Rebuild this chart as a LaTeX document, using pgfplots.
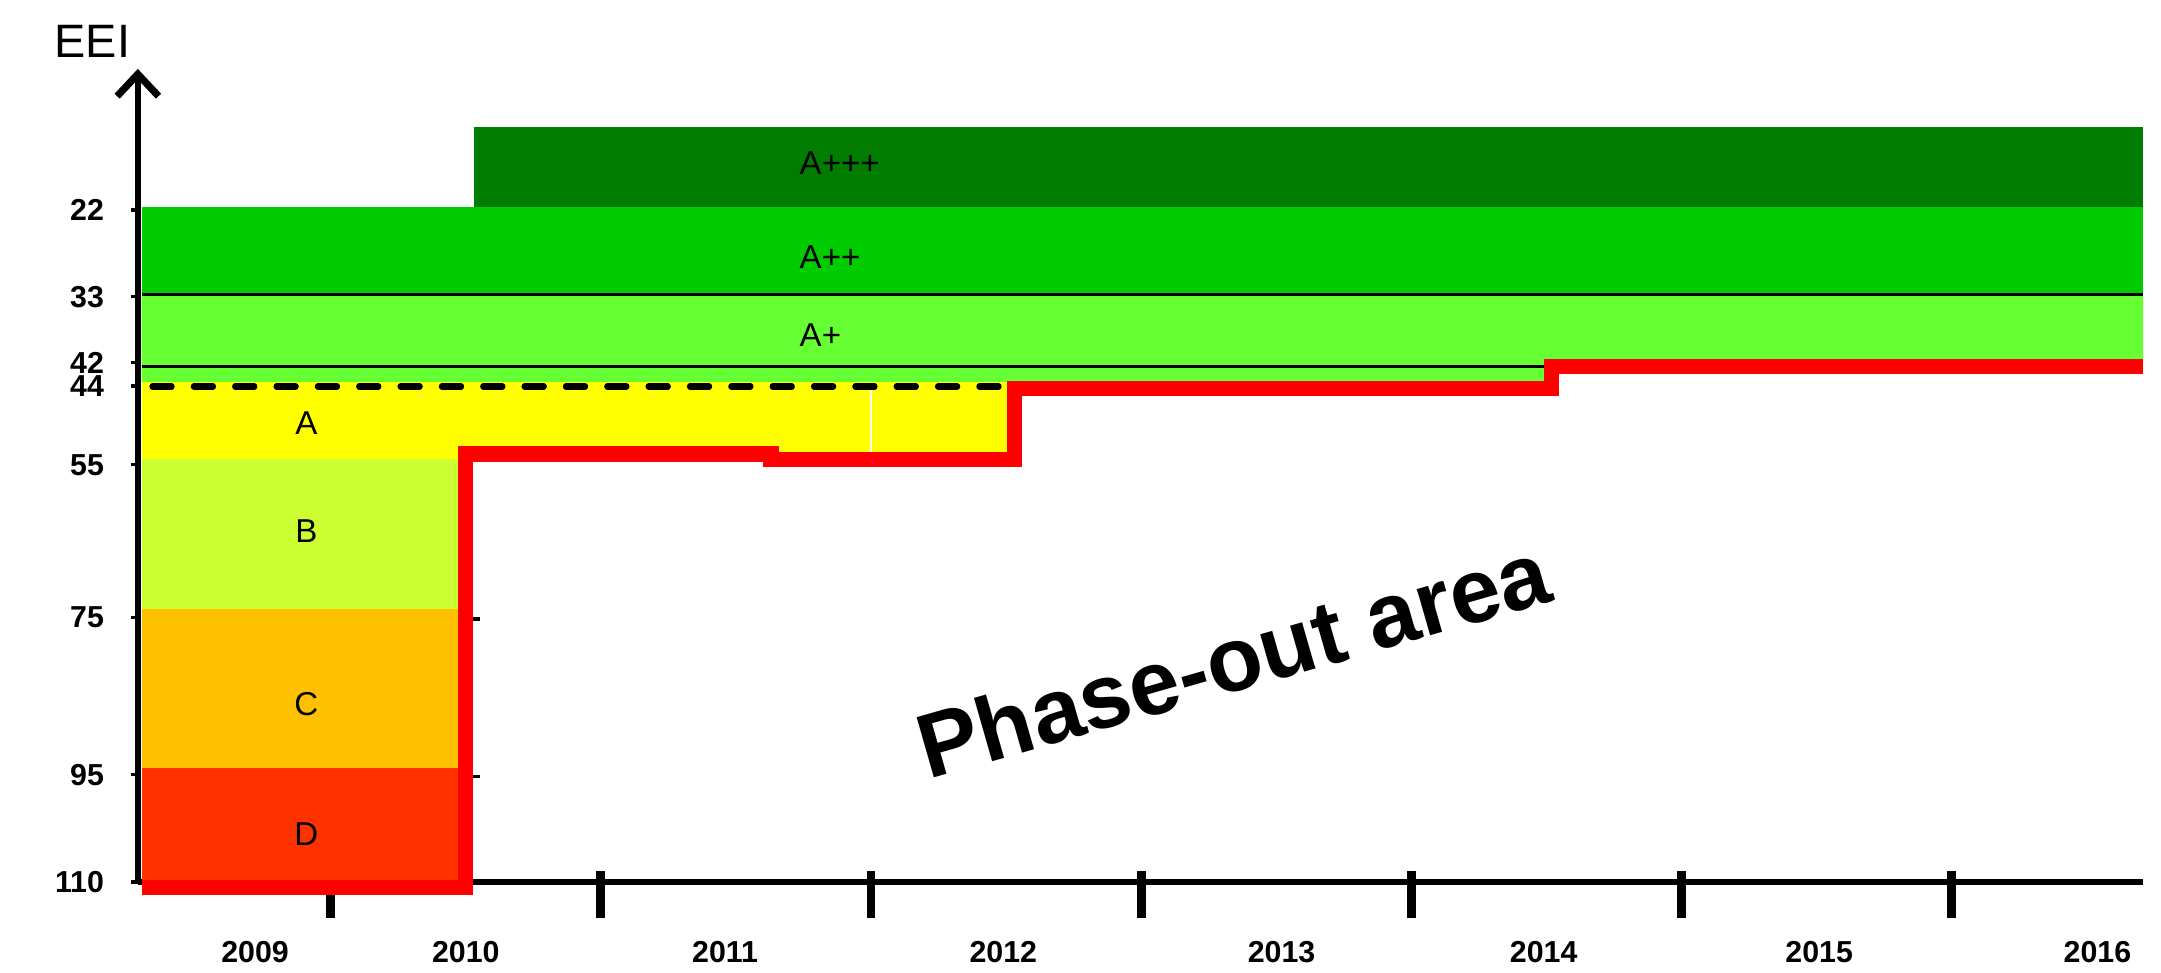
\documentclass[border=0pt]{standalone}
\usepackage{fontspec}
\setmainfont{Liberation Sans}
\usepackage{pgfplots}
\pgfplotsset{compat=1.18}
\usetikzlibrary{arrows.meta}
\definecolor{cAppp}{RGB}{0,125,0}
\definecolor{cApp}{RGB}{0,204,0}
\definecolor{cAp}{RGB}{102,255,51}
\definecolor{cA}{RGB}{255,255,0}
\definecolor{cB}{RGB}{204,255,51}
\definecolor{cC}{RGB}{255,192,0}
\definecolor{cD}{RGB}{255,51,0}
\definecolor{cRed}{RGB}{255,0,0}
\begin{document}
\begin{tikzpicture}
\begin{axis}[name=ax, scale only axis, width=727.5pt, height=295pt,
  xmin=2008.786, xmax=2016.209, ymin=4, ymax=110, y dir=reverse,
  axis x line=bottom, axis y line=left, clip=false,
  x axis line style={-, line width=2pt},
  y axis line style={{Straight Barb[length=8pt,width=15pt,line width=2.6pt]}-, line width=2.2pt},
  xtick={2009.5,2010.5,2011.5,2012.5,2013.5,2014.5,2015.5},
  xticklabels={},
  xtick align=center,
  xtick style={/pgfplots/major tick length=17pt, line width=3.2pt, black, yshift=-4.5pt},
  extra x ticks={2009.22,2010,2010.96,2011.99,2013.02,2013.99,2015.01,2016.04},
  extra x tick labels={2009,2010,2011,2012,2013,2014,2015,2016},
  extra x tick style={xtick style={draw=none}, xticklabel style={font=\bfseries\fontsize{11}{13}\selectfont, yshift=-16pt}},
  ytick={22.4,33.7,42.3,45.35,55.6,75.5,96,110},
  yticklabels={22,33,42,44,55,75,95,110},
  ytick align=outside,
  ytick style={/pgfplots/major tick length=2.5pt, line width=1.2pt, black},
  yticklabel style={font=\bfseries\fontsize{11}{13}\selectfont, xshift=-4.5pt},
]
% bands
\addplot[fill=cAppp, draw=none] coordinates {(2010.03,11.6) (2016.209,11.6) (2016.209,22) (2010.03,22)} -- cycle;
\addplot[fill=cApp, draw=none] coordinates {(2008.80,22) (2016.209,22) (2016.209,33.4) (2008.80,33.4)} -- cycle;
\addplot[fill=cAp, draw=none] coordinates {(2008.80,33.4) (2016.209,33.4) (2016.209,43.4) (2014.02,43.4) (2014.02,44.8) (2008.80,44.8)} -- cycle;
\addplot[fill=cA, draw=none] coordinates {(2008.80,44.8) (2012.03,44.8) (2012.03,54.9) (2008.80,54.9)} -- cycle;
\addplot[fill=cB, draw=none] coordinates {(2008.80,54.9) (2010.0,54.9) (2010.0,74.4) (2008.80,74.4)} -- cycle;
\addplot[fill=cC, draw=none] coordinates {(2008.80,74.4) (2010.0,74.4) (2010.0,95.1) (2008.80,95.1)} -- cycle;
\addplot[fill=cD, draw=none] coordinates {(2008.80,95.1) (2010.0,95.1) (2010.0,110) (2008.80,110)} -- cycle;
% thin lines
\addplot[black, line width=0.9pt] coordinates {(2008.80,33.4) (2016.209,33.4)};
\addplot[black, line width=0.9pt] coordinates {(2008.80,42.8) (2014.02,42.8)};
\addplot[white, line width=0.7pt] coordinates {(2011.5,45.8) (2011.5,54.9)};
\addplot[black, line width=2.2pt, dash pattern=on 7pt off 8pt, line cap=round] coordinates {(2008.84,45.4) (2012.03,45.4)};
% small marks
\addplot[only marks, mark=-, mark size=1.3pt, black, line width=1.2pt] coordinates {(2010.04,75.7) (2010.04,96.2)};
% phase-out limit
\addplot[cRed, line width=5.5pt, line join=miter] coordinates {(2008.80,110.7) (2010.0,110.7) (2010.0,54.2) (2011.13,54.2) (2011.13,54.95) (2012.03,54.95) (2012.03,45.7) (2014.02,45.7) (2014.02,42.75) (2016.209,42.75)};
% labels
\node[font=\fontsize{12}{14}\selectfont, anchor=west] at (axis cs:2011.2,16.25) {A+++};
\node[font=\fontsize{12}{14}\selectfont, anchor=west] at (axis cs:2011.2,28.6) {A++};
\node[font=\fontsize{12}{14}\selectfont, anchor=west] at (axis cs:2011.2,38.7) {A+};
\node[font=\fontsize{12}{14}\selectfont] at (axis cs:2009.41,50.2) {A};
\node[font=\fontsize{12}{14}\selectfont] at (axis cs:2009.41,64.2) {B};
\node[font=\fontsize{12}{14}\selectfont] at (axis cs:2009.41,86.8) {C};
\node[font=\fontsize{12}{14}\selectfont] at (axis cs:2009.41,103.7) {D};
\node[font=\bfseries\fontsize{33}{36}\selectfont, rotate=16] at (axis cs:2012.84,80.9) {Phase-out area};
\end{axis}
\node[font=\fontsize{17}{20}\selectfont] at ([xshift=-16.5pt,yshift=10pt]ax.north west) {EEI};
\pgfresetboundingbox
\path ([xshift=-50pt,yshift=-33pt]ax.south west) rectangle ([xshift=6.5pt,yshift=25pt]ax.north east);
\end{tikzpicture}
\end{document}
